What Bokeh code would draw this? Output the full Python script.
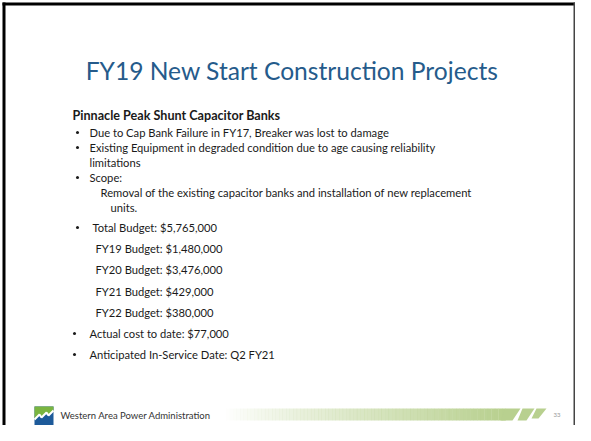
import numpy as np
from bokeh.plotting import figure
from bokeh.models import Range1d
from bokeh.core.properties import value
from bokeh.embed import file_html
from bokeh.resources import INLINE

# ---------------- data ----------------
title = "FY19 New Start Construction Projects"
heading = "Pinnacle Peak Shunt Capacitor Banks"
issue_bullets = [
    "Due to Cap Bank Failure in FY17, Breaker was lost to damage",
    "Existing Equipment in degraded condition due to age causing reliability",
]
issue_wrap = "limitations"
scope_label = "Scope:"
scope_text = ["Removal of the existing capacitor banks and installation of new replacement", "units."]
total_budget = 5765000
budget_years = ["FY19", "FY20", "FY21", "FY22"]
budget_values = [1480000, 3476000, 429000, 380000]
actual_cost = 77000
in_service = "Q2 FY21"
org_name = "Western Area Power Administration"
page_number = "33"

def money(v):
    return "${:,}".format(v)

# ---------------- figure ----------------
W, H = 575, 425
p = figure(width=W, height=H, x_range=Range1d(0, W), y_range=Range1d(H, 0),
           output_backend="svg", toolbar_location=None, min_border=0,
           background_fill_color="white", border_fill_color="white")
p.axis.visible = False
p.grid.visible = False
p.outline_line_color = None

FONT = value("Lato")
TXT = "#1a1a1a"
BODY = "11.2px"

# slide frame
p.quad(left=[2], right=[5], top=[2], bottom=[H], color="black", line_color=None)
p.quad(left=[2], right=[W], top=[2], bottom=[5], color="black", line_color=None)
p.quad(left=[W - 2], right=[W], top=[2], bottom=[H], color="#444444", line_color=None)

# title
p.text(x=[291.5], y=[70], text=[title], text_font=FONT, text_font_size="24.6px",
       text_color="#255b8b", text_align="center", text_baseline="middle")

# heading
p.text(x=[72], y=[115], text=[heading], text_font=FONT, text_font_size="12.6px",
       text_font_style="bold", text_color=TXT, text_baseline="middle")

lines_x, lines_y, lines_t = [], [], []
bul_x, bul_y = [], []

def add(x, y, t, bullet=None):
    lines_x.append(x); lines_y.append(y); lines_t.append(t)
    if bullet is not None:
        bul_x.append(bullet); bul_y.append(y)

add(89, 132, issue_bullets[0], 77)
add(89, 147, issue_bullets[1], 77)
add(89, 162, issue_wrap)
add(89, 177, scope_label, 77)
add(100, 192, scope_text[0])
add(110, 207, scope_text[1])
add(92, 227, "Total Budget:  " + money(total_budget), 77)
for i, (yr, v) in enumerate(zip(budget_years, budget_values)):
    add(95, 248 + i * 21.3, yr + " Budget: " + money(v))
add(89, 333, "Actual cost to date: " + money(actual_cost), 74)
add(89, 354, "Anticipated In-Service Date: " + in_service, 74)

p.text(x=lines_x, y=lines_y, text=lines_t, text_font=FONT, text_font_size=BODY,
       text_color=TXT, text_baseline="middle")
p.scatter(x=bul_x, y=bul_y, size=3, color=TXT, line_color=None)

# footer: logo
FY = 415  # footer centre line
p.quad(left=[34], right=[53], top=[FY - 9], bottom=[FY + 10], color="#1d5a9a", line_color=None)
p.patch(x=[34, 53, 53, 48, 46, 41, 39, 34],
        y=[FY - 9, FY - 9, FY - 5, FY, FY - 3, FY + 2, FY - 1, FY + 4],
        color="#7ab540", line_color=None)
p.line(x=[34, 39, 41, 46, 48, 53], y=[FY + 4, FY - 1, FY + 2, FY - 3, FY, FY - 5],
       line_color="white", line_width=2)

p.text(x=[60], y=[FY], text=[org_name], text_font=FONT, text_font_size="9.5px",
       text_color="#333333", text_baseline="middle")

# footer gradient bar
n = 80
xs = np.linspace(222, 505, n + 1)
alphas = np.linspace(0.0, 1.0, n) ** 0.9
p.quad(left=xs[:-1], right=xs[1:] + 0.3, top=FY - 7, bottom=FY + 5, fill_color="#b8d08f",
       fill_alpha=alphas, line_color=None)
p.patch(x=[505, 520, 512, 500], y=[FY - 7, FY - 7, FY + 5, FY + 5], color="#b8d08f", line_color=None)
p.patch(x=[522, 534, 526, 517], y=[FY - 7, FY - 7, FY + 5, FY + 5], color="#b8d08f", line_color=None)
p.patch(x=[536, 546, 538, 531], y=[FY - 7, FY - 7, FY + 3, FY + 3], color="#b8d08f", line_color=None)

p.text(x=[553], y=[FY - 1], text=[page_number], text_font=FONT, text_font_size="6px",
       text_color="#999999", text_baseline="middle")

open("out.html", "w").write(file_html(p, INLINE))
